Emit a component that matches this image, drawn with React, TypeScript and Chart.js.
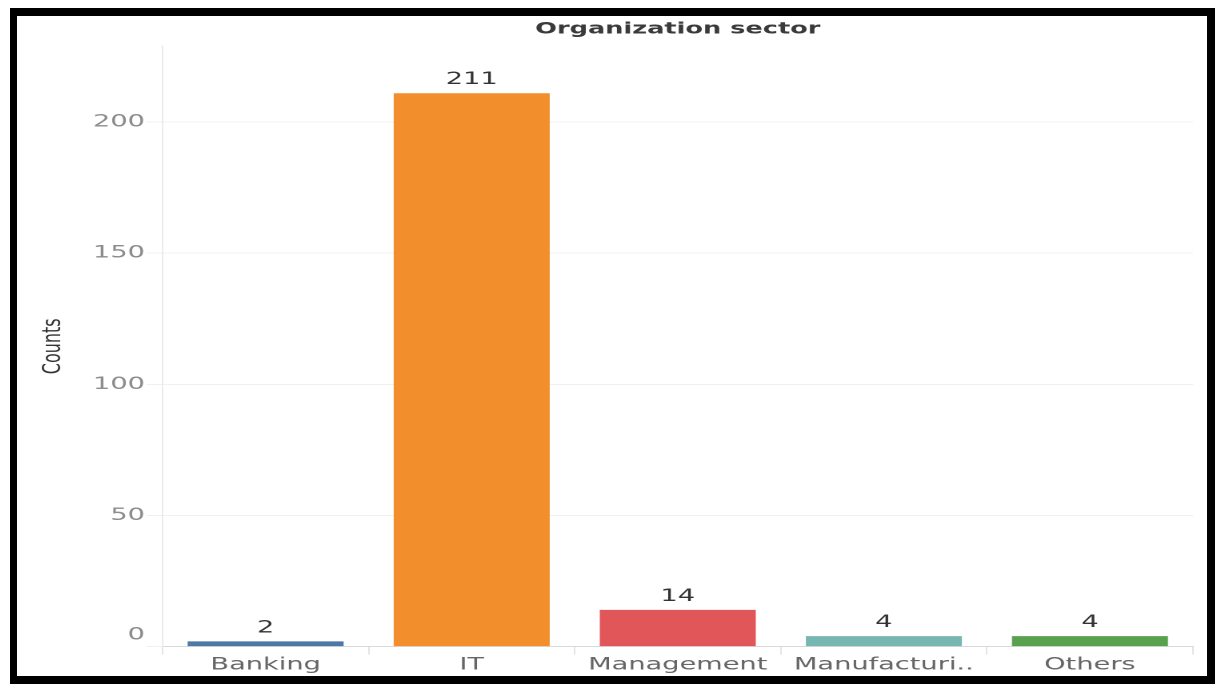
import React, { useEffect, useRef } from "react";
import { Chart, registerables } from "chart.js";

Chart.register(...registerables);

// Sector categories and their respondent counts
const sectors = ["Banking", "IT", "Management", "Manufacturi..", "Others"];
const counts = [2, 211, 14, 4, 4];
const sectorColors = ["#4e79a7", "#f28e2b", "#e15759", "#76b7b2", "#59a14f"];
const countTicks = [0, 50, 100, 150, 200];
const countAxisMax = 229;

const FONT = "'DejaVu Sans', Verdana, sans-serif";
const STRETCH = 1.6;
const CANVAS_W = 744;
const CANVAS_H = 660;

// Draws the count axis labels; the bottom label is lifted to sit inside the axis
const countLabels = {
  id: "countLabels",
  afterDraw(chart: any) {
    const { ctx, scales, chartArea } = chart;
    const y = scales.y;
    ctx.save();
    ctx.font = `17px ${FONT}`;
    ctx.fillStyle = "#8c8c8c";
    ctx.textAlign = "right";
    countTicks.forEach((v) => {
      const py = y.getPixelForValue(v);
      if (py >= chartArea.bottom - 1) {
        ctx.textBaseline = "alphabetic";
        ctx.fillText(String(v), chartArea.left - 11, py - 7);
      } else {
        ctx.textBaseline = "middle";
        ctx.fillText(String(v), chartArea.left - 11, py);
      }
    });
    ctx.restore();
  },
};

// Writes each bar's value above it
const valueLabels = {
  id: "valueLabels",
  afterDatasetsDraw(chart: any) {
    const { ctx } = chart;
    const meta = chart.getDatasetMeta(0);
    ctx.save();
    ctx.font = `17px ${FONT}`;
    ctx.fillStyle = "#333333";
    ctx.textAlign = "center";
    ctx.textBaseline = "alphabetic";
    meta.data.forEach((bar: any, i: number) => {
      ctx.fillText(String(counts[i]), bar.x, bar.y - 9);
    });
    ctx.restore();
  },
};

export default function App() {
  const canvasRef = useRef<HTMLCanvasElement | null>(null);

  useEffect(() => {
    if (!canvasRef.current) return;
    const chart = new Chart(canvasRef.current, {
      type: "bar",
      data: {
        labels: sectors,
        datasets: [
          {
            data: counts,
            backgroundColor: sectorColors,
            borderWidth: 0,
            categoryPercentage: 1,
            barPercentage: 0.757,
          },
        ],
      },
      options: {
        animation: false,
        responsive: true,
        maintainAspectRatio: false,
        devicePixelRatio: 2,
        layout: { padding: { left: 0, right: 9, top: 0, bottom: 0 } },
        plugins: {
          legend: { display: false },
          tooltip: { enabled: false },
          title: {
            display: true,
            text: "Organization sector",
            fullSize: false,
            color: "#3a3a3a",
            font: { family: FONT, size: 16, weight: "bold" },
            padding: { top: 3.5, bottom: 7.3 },
          },
        },
        scales: {
          x: {
            offset: true,
            border: { display: true, color: "#d9d9d9" },
            grid: {
              display: true,
              offset: true,
              drawOnChartArea: false,
              drawTicks: true,
              tickLength: 8,
              color: "#e4e4e4",
            },
            ticks: {
              color: "#666666",
              font: { family: FONT, size: 17 },
              padding: 0.5,
              autoSkip: false,
              maxRotation: 0,
            },
          },
          y: {
            min: 0,
            max: countAxisMax,
            border: { display: true, color: "#ebebeb" },
            grid: {
              color: "#f0f0f0",
              drawTicks: true,
              tickLength: 10,
            },
            ticks: { display: false, stepSize: 50 },
            title: {
              display: true,
              text: "Counts",
              color: "#333333",
              font: { family: FONT, size: 16 },
              padding: { top: 13, bottom: 0 },
            },
            afterBuildTicks: (scale: any) => {
              scale.ticks = scale.ticks.filter((t: any) => countTicks.includes(t.value));
            },
            afterFit: (scale: any) => {
              scale.width = 91;
            },
          },
        },
      },
      plugins: [countLabels, valueLabels],
    } as any);
    return () => chart.destroy();
  }, []);

  return (
    <div
      style={{
        position: "fixed",
        left: 0,
        top: 0,
        width: 1215,
        height: 684,
        background: "#ffffff",
        overflow: "hidden",
      }}
    >
      <div
        style={{
          position: "absolute",
          left: 10,
          top: 8,
          width: 1205,
          height: 676,
          boxSizing: "border-box",
          borderStyle: "solid",
          borderColor: "#000000",
          borderWidth: "8px 8px 8px 7px",
        }}
      />
      <div
        style={{
          position: "absolute",
          left: 17,
          top: 16,
          width: CANVAS_W,
          height: CANVAS_H,
          transform: `scaleX(${STRETCH})`,
          transformOrigin: "0 0",
        }}
      >
        <canvas ref={canvasRef} />
      </div>
    </div>
  );
}
